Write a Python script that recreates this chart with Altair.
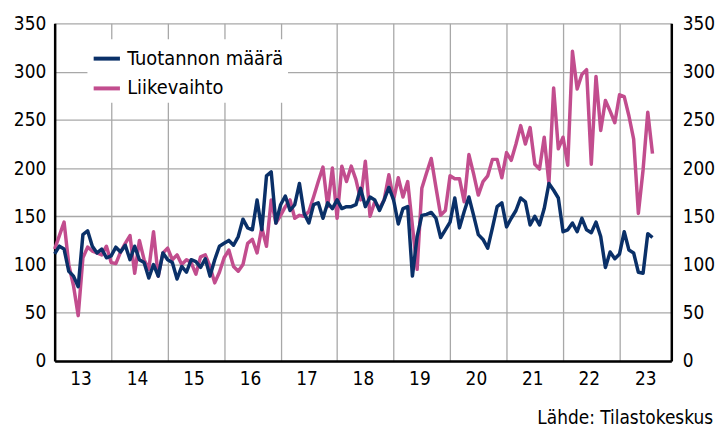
import altair as alt
import pandas as pd

FONT = "DejaVu Sans Condensed"

series_names = ["Tuotannon määrä", "Liikevaihto"]
series_colors = ["#0a3068", "#c24d8e"]
source_text = "Lähde: Tilastokeskus"

# Monthly index values, Jan 2013 - Aug 2023
production = [
    111, 119, 116, 93, 88, 77, 131, 135, 119, 112, 116, 107,   # 2013
    109, 118, 113, 120, 105, 119, 105, 102, 86, 100, 88, 112,  # 2014
    105, 102, 85, 98, 92, 105, 103, 97, 106, 88, 105, 119,     # 2015
    122, 125, 120, 129, 147, 138, 136, 167, 136, 192, 196, 143,  # 2016
    162, 171, 156, 162, 184, 153, 143, 162, 164, 148, 164, 158,  # 2017
    167, 158, 160, 160, 162, 179, 160, 170, 167, 156, 167, 180,  # 2018
    167, 142, 158, 160, 88, 129, 151, 152, 154, 148, 128, 136,   # 2019
    144, 169, 138, 155, 170, 151, 131, 126, 117, 138, 160, 164,  # 2020
    139, 148, 156, 169, 165, 141, 150, 141, 158, 184, 177, 169,  # 2021
    134, 136, 143, 134, 148, 136, 133, 144, 129, 97, 113, 106,   # 2022
    111, 134, 115, 112, 92, 91, 132, 128,                        # 2023
]
turnover = [
    116, 130, 144, 100, 78, 47, 107, 118, 114, 112, 110, 119,    # 2013
    102, 101, 113, 122, 130, 91, 125, 105, 95, 134, 88, 112,     # 2014
    117, 105, 110, 100, 105, 102, 90, 108, 110, 98, 81, 92,      # 2015
    107, 115, 98, 93, 100, 122, 126, 112, 138, 119, 167, 143,    # 2016
    151, 160, 167, 148, 151, 150, 155, 170, 186, 201, 160, 200,  # 2017
    148, 202, 186, 202, 188, 167, 207, 150, 165, 158, 167, 193,  # 2018
    167, 190, 170, 186, 140, 95, 179, 195, 210, 180, 151, 156,   # 2019
    192, 189, 189, 165, 214, 194, 172, 186, 192, 209, 209, 190,  # 2020
    216, 208, 225, 244, 225, 242, 204, 199, 232, 184, 283, 220,  # 2021
    232, 203, 321, 282, 297, 302, 204, 295, 239, 270, 259, 247,  # 2022
    276, 274, 254, 230, 153, 198, 258, 215,                      # 2023
]

first_year = 2013
last_year = 2023
y_ticks = [0, 50, 100, 150, 200, 250, 300, 350]

dates = pd.date_range(f"{first_year}-01-01", periods=len(production), freq="MS")
month_index = [(d.year - first_year) * 12 + d.month - 1 for d in dates]

df = pd.concat([
    pd.DataFrame({"m": month_index, "value": production, "series": series_names[0]}),
    pd.DataFrame({"m": month_index, "value": turnover, "series": series_names[1]}),
])

year_starts = [(y - first_year) * 12 for y in range(first_year, last_year + 1)]
x_max = (last_year - first_year) * 12 + 11

x_enc = alt.X(
    "m:Q",
    scale=alt.Scale(domain=[0, x_max], nice=False, zero=False),
    axis=alt.Axis(
        values=year_starts,
        labelExpr=f"'' + ({first_year % 100} + datum.value / 12)",
        labelOffset=26,
        labelFlush=False,
        labelOverlap=False,
        ticks=False,
        grid=True,
        gridColor="#a8a8a8",
        gridWidth=1.3,
        domainColor="black",
        domainWidth=2.5,
        labelFontSize=19,
        labelFont=FONT,
        labelColor="black",
        labelPadding=9,
        title=None,
    ),
)

color_enc = alt.Color(
    "series:N",
    scale=alt.Scale(domain=series_names, range=series_colors),
    legend=alt.Legend(
        title=None,
        orient="none",
        legendX=33,
        legendY=16,
        fillColor="white",
        padding=4,
        symbolType="stroke",
        symbolSize=700,
        symbolStrokeWidth=4,
        labelFontSize=20,
        labelFont=FONT,
        labelColor="black",
        labelOffset=5,
        rowPadding=4,
        labelLimit=400,
    ),
)

y_scale = alt.Scale(domain=[0, 350], nice=False)

left_axis = alt.Axis(
    values=y_ticks, orient="left", ticks=False, grid=True,
    gridColor="#a8a8a8", gridWidth=1.3, domainColor="black", domainWidth=2.5,
    labelFontSize=19, labelFont=FONT, labelColor="black", labelPadding=9, title=None,
)
right_axis = alt.Axis(
    values=y_ticks, orient="right", ticks=False, grid=False,
    domainColor="black", domainWidth=2.5,
    labelFontSize=19, labelFont=FONT, labelColor="black", labelPadding=11, title=None,
)

pink = alt.Chart(df).transform_filter(
    alt.datum.series == series_names[1]
).mark_line(strokeWidth=3.5, strokeJoin="round").encode(
    x=x_enc,
    y=alt.Y("value:Q", scale=y_scale, axis=left_axis),
    color=color_enc,
)

blue = alt.Chart(df).transform_filter(
    alt.datum.series == series_names[0]
).mark_line(strokeWidth=3.5, strokeJoin="round").encode(
    x=x_enc,
    y=alt.Y("value:Q", scale=y_scale, axis=right_axis),
    color=color_enc,
)

source = alt.Chart(pd.DataFrame({"t": [source_text]})).mark_text(
    align="right", baseline="alphabetic", fontSize=19, font=FONT, color="black"
).encode(x=alt.value(663), y=alt.value(403), text="t:N")

chart = alt.layer(pink, blue, source).resolve_scale(y="independent").properties(
    width=621,
    height=340,
    autosize=alt.AutoSizeParams(type="none"),
    padding={"left": 47, "top": 14, "right": 44, "bottom": 66},
).configure_view(stroke=None)

chart.save("out.html", embed_options={"renderer": "svg", "actions": False})
